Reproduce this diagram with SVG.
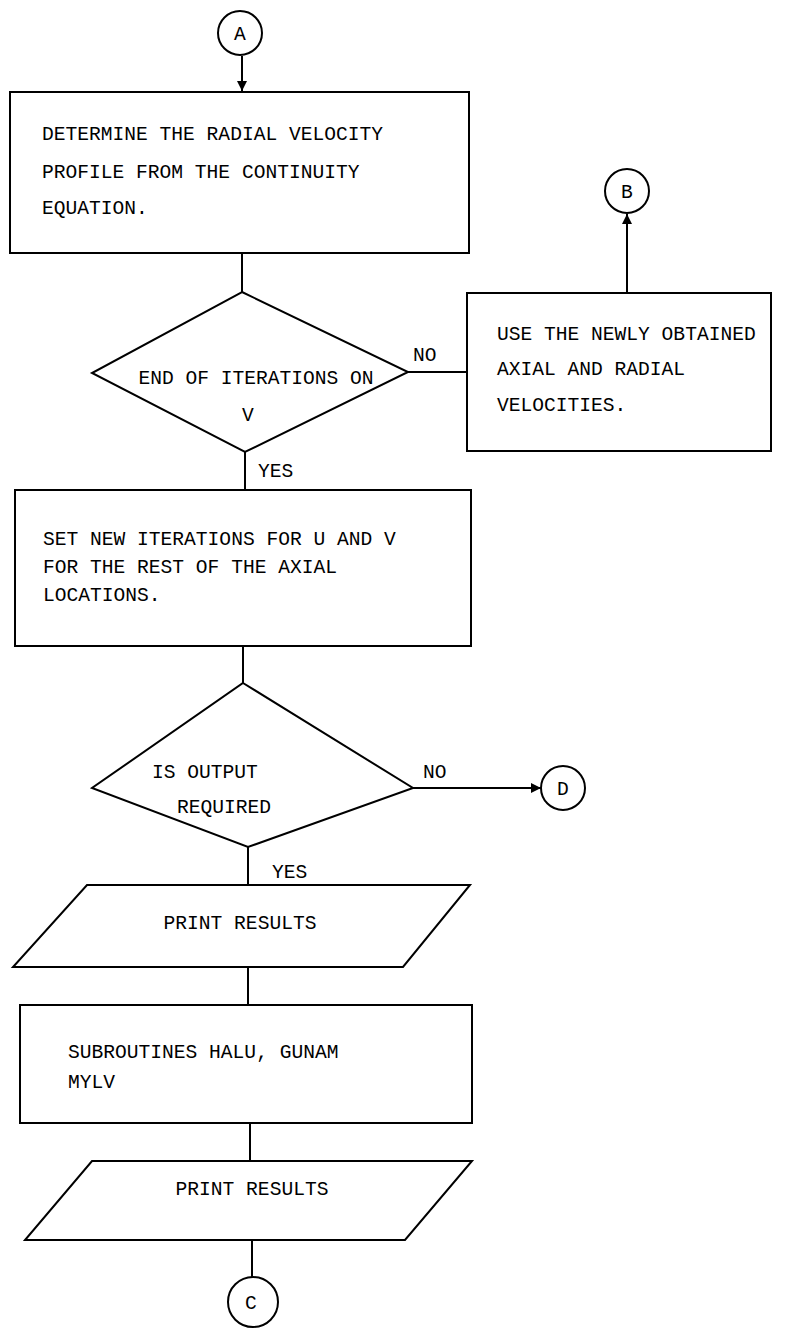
<svg xmlns="http://www.w3.org/2000/svg" width="793" height="1332" viewBox="0 0 793 1332">
<style>
.s{fill:none;stroke:#000;stroke-width:2}
.t{font-family:"Liberation Mono","DejaVu Sans Mono",monospace;font-size:19.6px;fill:#000}
.m{text-anchor:middle}
.c{stroke:#000;stroke-width:2;fill:none}
</style>
<defs>
<marker id="ah" viewBox="0 0 10 10" refX="10" refY="5" markerWidth="5" markerHeight="5" orient="auto-start-reverse" markerUnits="strokeWidth">
<path d="M0,0 L10,5 L0,10 Z" fill="#000"/>
</marker>
</defs>
<rect width="793" height="1332" fill="#fff"/>
<g id="connectors">
<line class="c" x1="242" y1="56" x2="242" y2="91" marker-end="url(#ah)"/>
<line class="c" x1="242" y1="253" x2="242" y2="292"/>
<line class="c" x1="408" y1="372" x2="467" y2="372"/>
<line class="c" x1="627" y1="293" x2="627" y2="214" marker-end="url(#ah)"/>
<line class="c" x1="245" y1="452" x2="245" y2="490"/>
<line class="c" x1="243" y1="646" x2="243" y2="683"/>
<line class="c" x1="413" y1="788" x2="541" y2="788" marker-end="url(#ah)"/>
<line class="c" x1="248" y1="847" x2="248" y2="885"/>
<line class="c" x1="248" y1="967" x2="248" y2="1005"/>
<line class="c" x1="250" y1="1123" x2="250" y2="1161"/>
<line class="c" x1="252" y1="1240" x2="252" y2="1277"/>
<text class="t" x="413" y="361">NO</text>
<text class="t" x="258" y="477">YES</text>
<text class="t" x="423" y="778">NO</text>
<text class="t" x="272" y="878">YES</text>
</g>
<g id="A">
<circle class="s" cx="240" cy="33" r="22"/>
<text class="t m" x="240" y="40">A</text>
</g>
<g id="box1">
<rect class="s" x="10" y="92" width="459" height="161"/>
<text class="t" x="42" y="140">DETERMINE THE RADIAL VELOCITY</text>
<text class="t" x="42" y="178">PROFILE FROM THE CONTINUITY</text>
<text class="t" x="42" y="214">EQUATION.</text>
</g>
<g id="B">
<circle class="s" cx="627" cy="191" r="22"/>
<text class="t m" x="627" y="198">B</text>
</g>
<g id="boxB">
<rect class="s" x="467" y="293" width="304" height="158"/>
<text class="t" x="497" y="340">USE THE NEWLY OBTAINED</text>
<text class="t" x="497" y="375">AXIAL AND RADIAL</text>
<text class="t" x="497" y="411">VELOCITIES.</text>
</g>
<g id="dec1">
<polygon class="s" points="242,292 408,372 245,452 92,373"/>
<text class="t m" x="256" y="384">END OF ITERATIONS ON</text>
<text class="t m" x="248" y="421">V</text>
</g>
<g id="box2">
<rect class="s" x="15" y="490" width="456" height="156"/>
<text class="t" x="43" y="545">SET NEW ITERATIONS FOR U AND V</text>
<text class="t" x="43" y="573">FOR THE REST OF THE AXIAL</text>
<text class="t" x="43" y="601">LOCATIONS.</text>
</g>
<g id="dec2">
<polygon class="s" points="243,683 413,788 248,847 92,788"/>
<text class="t" x="152" y="778">IS OUTPUT</text>
<text class="t" x="177" y="813">REQUIRED</text>
</g>
<g id="D">
<circle class="s" cx="563" cy="788" r="22"/>
<text class="t m" x="563" y="795">D</text>
</g>
<g id="print1">
<polygon class="s" points="87,885 470,885 403,967 13,967"/>
<text class="t m" x="240" y="929">PRINT RESULTS</text>
</g>
<g id="box3">
<rect class="s" x="20" y="1005" width="452" height="118"/>
<text class="t" x="68" y="1058">SUBROUTINES HALU, GUNAM</text>
<text class="t" x="68" y="1088">MYLV</text>
</g>
<g id="print2">
<polygon class="s" points="92,1161 472,1161 405,1240 25,1240"/>
<text class="t m" x="252" y="1195">PRINT RESULTS</text>
</g>
<g id="C">
<circle class="s" cx="253" cy="1302" r="25"/>
<text class="t m" x="251" y="1309">C</text>
</g>
</svg>
